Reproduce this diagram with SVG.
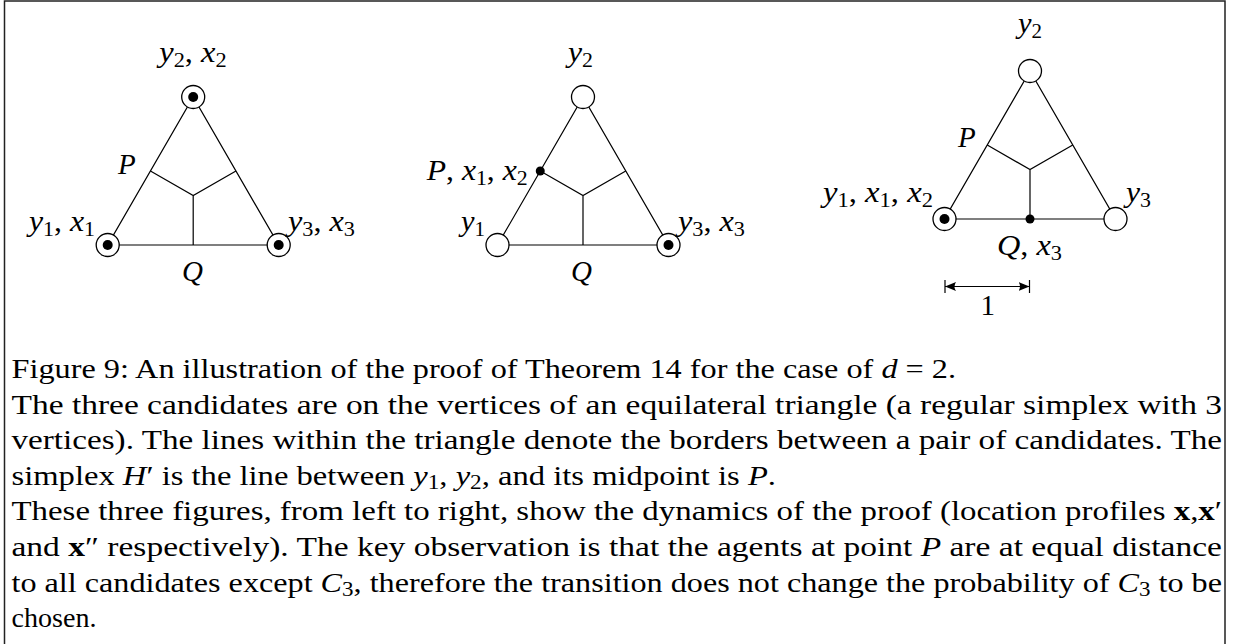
<svg xmlns="http://www.w3.org/2000/svg" width="1233" height="644" viewBox="0 0 1233 644">
<style>
.frame{fill:none;stroke:#222;stroke-width:1.5}
.ln{fill:none;stroke:#000;stroke-width:1.2}
.v{fill:#fff;stroke:#000;stroke-width:1.3}
.d{fill:#000}
text{font-family:"Liberation Serif","Times New Roman",serif;font-size:28px;fill:#000}
.lb{font-size:29px}
.it{font-style:italic}
.sb{font-size:20px}
.bf{font-weight:bold}
</style>
<defs>
<marker id="ah" viewBox="0 0 11 9" refX="11" refY="4.5" markerWidth="11" markerHeight="9" markerUnits="userSpaceOnUse" orient="auto-start-reverse">
<path d="M0,0 Q3,4.5 0,9 L11,4.5 Z" fill="#000"/>
</marker>
</defs>
<rect width="1233" height="644" fill="#fff"/>
<path class="frame" d="M4.5,644 V1 H1225 V644"/>

<g id="connectors">
<polygon class="ln" points="107.7,245 278.7,245 193.2,97"/>
<path class="ln" d="M150.45,171 L193.2,195.6 L235.95,171 M193.2,195.6 V245"/>
<polygon class="ln" points="497.5,245 668.5,245 583,97"/>
<path class="ln" d="M540.25,171 L583,195.6 L625.75,171 M583,195.6 V245"/>
<polygon class="ln" points="944.5,219 1115.5,219 1030,71"/>
<path class="ln" d="M987.25,145 L1030,169.6 L1072.75,145 M1030,169.6 V219"/>
<path class="ln" d="M945,280 V293 M1029.5,280 V293"/>
<line class="ln" x1="945" y1="286.5" x2="1029.5" y2="286.5" marker-start="url(#ah)" marker-end="url(#ah)"/>
</g>

<g id="f1-top"><circle class="v" cx="193.2" cy="97" r="11.5"/><circle class="d" cx="193.2" cy="97" r="5"/>
<text class="lb" x="159.3" y="62" textLength="67.4" lengthAdjust="spacingAndGlyphs"><tspan class="it">y</tspan><tspan class="sb" dy="5">2</tspan><tspan dy="-5">, </tspan><tspan class="it">x</tspan><tspan class="sb" dy="5">2</tspan></text></g>
<g id="f1-left"><circle class="v" cx="107.7" cy="245" r="11.5"/><circle class="d" cx="107.7" cy="245" r="5"/>
<text class="lb" x="29" y="231" textLength="66" lengthAdjust="spacingAndGlyphs"><tspan class="it">y</tspan><tspan class="sb" dy="5">1</tspan><tspan dy="-5">, </tspan><tspan class="it">x</tspan><tspan class="sb" dy="5">1</tspan></text></g>
<g id="f1-right"><circle class="v" cx="278.7" cy="245" r="11.5"/><circle class="d" cx="278.7" cy="245" r="5"/>
<text class="lb" x="288" y="231" textLength="67" lengthAdjust="spacingAndGlyphs"><tspan class="it">y</tspan><tspan class="sb" dy="5">3</tspan><tspan dy="-5">, </tspan><tspan class="it">x</tspan><tspan class="sb" dy="5">3</tspan></text></g>
<g id="f1-P"><text class="lb it" x="118" y="174">P</text></g>
<g id="f1-Q"><text class="lb it" x="182" y="281">Q</text></g>

<g id="f2-top"><circle class="v" cx="583" cy="97" r="11.5"/>
<text class="lb" x="568" y="62" textLength="25" lengthAdjust="spacingAndGlyphs"><tspan class="it">y</tspan><tspan class="sb" dy="5">2</tspan></text></g>
<g id="f2-left"><circle class="v" cx="497.5" cy="245" r="11.5"/>
<text class="lb" x="461" y="231" textLength="24" lengthAdjust="spacingAndGlyphs"><tspan class="it">y</tspan><tspan class="sb" dy="5">1</tspan></text></g>
<g id="f2-right"><circle class="v" cx="668.5" cy="245" r="11.5"/><circle class="d" cx="668.5" cy="245" r="5"/>
<text class="lb" x="678" y="231" textLength="67" lengthAdjust="spacingAndGlyphs"><tspan class="it">y</tspan><tspan class="sb" dy="5">3</tspan><tspan dy="-5">, </tspan><tspan class="it">x</tspan><tspan class="sb" dy="5">3</tspan></text></g>
<g id="f2-P"><circle class="d" cx="540.25" cy="171" r="4.5"/>
<text class="lb" x="426.7" y="180" textLength="101" lengthAdjust="spacingAndGlyphs"><tspan class="it">P</tspan>, <tspan class="it">x</tspan><tspan class="sb" dy="5">1</tspan><tspan dy="-5">, </tspan><tspan class="it">x</tspan><tspan class="sb" dy="5">2</tspan></text></g>
<g id="f2-Q"><text class="lb it" x="571" y="281">Q</text></g>

<g id="f3-top"><circle class="v" cx="1030" cy="71" r="11.5"/>
<text class="lb" x="1018" y="33" textLength="24" lengthAdjust="spacingAndGlyphs"><tspan class="it">y</tspan><tspan class="sb" dy="5">2</tspan></text></g>
<g id="f3-left"><circle class="v" cx="944.5" cy="219" r="11.5"/><circle class="d" cx="944.5" cy="219" r="5"/>
<text class="lb" x="823" y="202" textLength="110" lengthAdjust="spacingAndGlyphs"><tspan class="it">y</tspan><tspan class="sb" dy="5">1</tspan><tspan dy="-5">, </tspan><tspan class="it">x</tspan><tspan class="sb" dy="5">1</tspan><tspan dy="-5">, </tspan><tspan class="it">x</tspan><tspan class="sb" dy="5">2</tspan></text></g>
<g id="f3-right"><circle class="v" cx="1115.5" cy="219" r="11.5"/>
<text class="lb" x="1126" y="202" textLength="25" lengthAdjust="spacingAndGlyphs"><tspan class="it">y</tspan><tspan class="sb" dy="5">3</tspan></text></g>
<g id="f3-P"><text class="lb it" x="958" y="147">P</text></g>
<g id="f3-Q"><circle class="d" cx="1030" cy="219" r="4.5"/>
<text class="lb" x="997" y="255" textLength="65" lengthAdjust="spacingAndGlyphs"><tspan class="it">Q</tspan>, <tspan class="it">x</tspan><tspan class="sb" dy="5">3</tspan></text></g>
<g id="f3-unit"><text class="lb" x="980.5" y="315">1</text></g>

<g id="caption">
<text x="11.5" y="378" textLength="944.5" lengthAdjust="spacingAndGlyphs">Figure 9: An illustration of the proof of Theorem 14 for the case of <tspan class="it">d</tspan> = 2.</text>
<text x="11.5" y="413.6" textLength="1210.5" lengthAdjust="spacingAndGlyphs">The three candidates are on the vertices of an equilateral triangle (a regular simplex with 3</text>
<text x="11.5" y="449.2" textLength="1210.5" lengthAdjust="spacingAndGlyphs">vertices). The lines within the triangle denote the borders between a pair of candidates. The</text>
<text x="11.5" y="484.8" textLength="764.5" lengthAdjust="spacingAndGlyphs">simplex <tspan class="it">H</tspan>′ is the line between <tspan class="it">y</tspan><tspan class="sb" dy="4">1</tspan><tspan dy="-4">, </tspan><tspan class="it">y</tspan><tspan class="sb" dy="4">2</tspan><tspan dy="-4">, and its midpoint is </tspan><tspan class="it">P</tspan>.</text>
<text x="11.5" y="520.4" textLength="1210.5" lengthAdjust="spacingAndGlyphs">These three figures, from left to right, show the dynamics of the proof (location profiles <tspan class="bf">x</tspan>,<tspan class="bf">x</tspan>′</text>
<text x="11.5" y="556" textLength="1210.5" lengthAdjust="spacingAndGlyphs">and <tspan class="bf">x</tspan>″ respectively). The key observation is that the agents at point <tspan class="it">P</tspan> are at equal distance</text>
<text x="11.5" y="591.6" textLength="1210.5" lengthAdjust="spacingAndGlyphs">to all candidates except <tspan class="it">C</tspan><tspan class="sb" dy="4">3</tspan><tspan dy="-4">, therefore the transition does not change the probability of </tspan><tspan class="it">C</tspan><tspan class="sb" dy="4">3</tspan><tspan dy="-4"> to be</tspan></text>
<text x="11.5" y="627.2" textLength="85" lengthAdjust="spacingAndGlyphs">chosen.</text>
</g>
</svg>
